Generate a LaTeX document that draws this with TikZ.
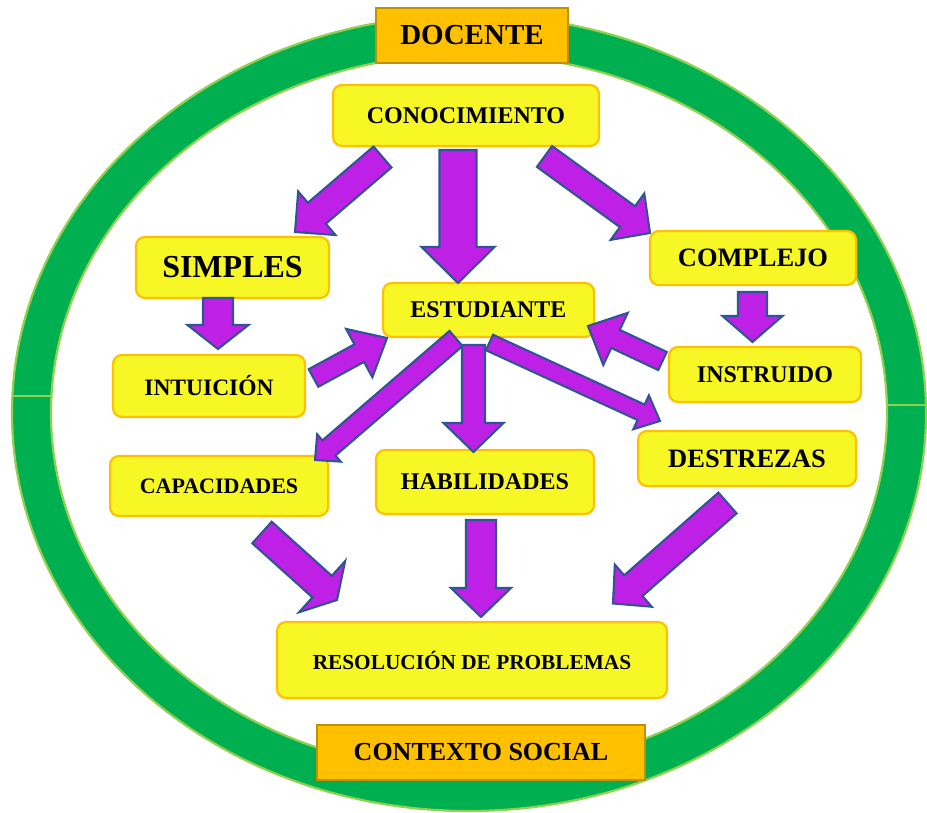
\documentclass[tikz,border=0pt]{standalone}
\usepackage{fontspec}
\setmainfont{Liberation Serif}
\usetikzlibrary{calc}

\definecolor{ringgreen}{RGB}{0,176,80}
\definecolor{ringedge}{RGB}{146,208,80}
\definecolor{gold}{RGB}{255,192,0}
\definecolor{golddark}{RGB}{191,144,0}
\definecolor{boxyellow}{RGB}{247,247,37}
\definecolor{boxedge}{RGB}{255,192,0}
\definecolor{arrowpurple}{RGB}{190,32,230}
\definecolor{arrowblue}{RGB}{47,85,151}

\newcommand{\fsz}[1]{\fontsize{#1}{#1}\selectfont}
% tail, tip, shaft half width, head half width, head length
\newcommand{\blockarrow}[5]{%
  \coordinate (hb) at ($(#2)!#5pt!(#1)$);
  \filldraw[barrow] ($(#1)!#3pt!90:(#2)$) -- ($(hb)!#3pt!90:(#2)$)
    -- ($(hb)!#4pt!90:(#2)$) -- (#2) -- ($(hb)!#4pt!-90:(#2)$)
    -- ($(hb)!#3pt!-90:(#2)$) -- ($(#1)!#3pt!-90:(#2)$) -- cycle;}

\begin{document}
\begin{tikzpicture}[x=1pt, y=-1pt,
  ybox/.style={draw=boxedge, fill=boxyellow, line width=2.2pt, rounded corners=9pt, inner sep=0pt},
  gbox/.style={draw=golddark, fill=gold, line width=2.5pt, inner sep=0pt},
  barrow/.style={fill=arrowpurple, draw=arrowblue, line width=2.1pt, line join=miter}]
\useasboundingbox (0,0) rectangle (927,813);
\def\outerring{(469,413) ellipse [x radius=457pt, y radius=398pt]}
\def\innerring{(469,413) ellipse [x radius=418pt, y radius=359pt]}

\begin{scope}[even odd rule] % green ring
\fill[ringgreen] \outerring \innerring;
\end{scope}
\draw[ringedge, line width=2.2pt] \outerring;
\draw[ringedge, line width=2.2pt] \innerring;
\draw[ringedge, line width=1.5pt] (12,396) -- (52,396);
\draw[ringedge, line width=1.5pt] (887,405) -- (927,405);

\node[gbox, minimum width=192pt, minimum height=55pt, font=\bfseries\fsz{29}] (doc) at (472,35.5) {DOCENTE};
\node[gbox, minimum width=328pt, minimum height=55pt, font=\bfseries\fsz{26}] (ctx) at (481,752.5) {CONTEXTO SOCIAL};

\node[ybox, minimum width=266pt, minimum height=61pt, font=\bfseries\fsz{24}] (cono) at (466,115.5) {CONOCIMIENTO};
\node[ybox, minimum width=193pt, minimum height=61pt, font=\bfseries\fsz{32}] (simp) at (232.5,267.5) {SIMPLES};
\node[ybox, minimum width=211pt, minimum height=54pt, font=\bfseries\fsz{24}] (estu) at (488.5,310) {ESTUDIANTE};
\node[ybox, minimum width=206pt, minimum height=54pt, font=\bfseries\fsz{26.5}] (comp) at (753,258) {COMPLEJO};
\node[ybox, minimum width=192pt, minimum height=62pt, font=\bfseries\fsz{23.5}] (intu) at (209,386) {INTUICIÓN};
\node[ybox, minimum width=192pt, minimum height=55pt, font=\bfseries\fsz{24}] (inst) at (765,374.5) {INSTRUIDO};
\node[ybox, minimum width=218pt, minimum height=60pt, font=\bfseries\fsz{22}] (capa) at (219,486) {CAPACIDADES};
\node[ybox, minimum width=218pt, minimum height=64pt, font=\bfseries\fsz{24}] (habi) at (485,482) {HABILIDADES};
\node[ybox, minimum width=218pt, minimum height=55pt, font=\bfseries\fsz{26.5}] (dest) at (747,458.5) {DESTREZAS};
\node[ybox, minimum width=390pt, minimum height=76pt, font=\bfseries\fsz{21.3}] (reso) at (472,660) {RESOLUCIÓN DE PROBLEMAS};

% arrow ends
\coordinate (cs1) at (382.5,157); \coordinate (cs2) at (295,232);
\coordinate (ce1) at (458,150);   \coordinate (ce2) at (458,283);
\coordinate (cc1) at (544.5,156.5); \coordinate (cc2) at (650,233);
\coordinate (si1) at (218,298);   \coordinate (si2) at (218,349);
\coordinate (ci1) at (752.5,292); \coordinate (ci2) at (752.5,342);
\coordinate (ie1) at (313.5,378); \coordinate (ie2) at (387,338);
\coordinate (ne1) at (662.5,361); \coordinate (ne2) at (588,326);
\coordinate (ec1) at (456,338.5); \coordinate (ec2) at (315,460);
\coordinate (eh1) at (473.5,345); \coordinate (eh2) at (473.5,452);
\coordinate (ed1) at (489.5,342.5); \coordinate (ed2) at (660,421);
\coordinate (cr1) at (262,532.5); \coordinate (cr2) at (337,600);
\coordinate (hr1) at (481,520);   \coordinate (hr2) at (481,617);
\coordinate (dr1) at (727.5,503); \coordinate (dr2) at (613,603.5);

\blockarrow{cs1}{cs2}{13.8}{28.7}{28.8}
\blockarrow{ce1}{ce2}{18.5}{36.5}{36}
\blockarrow{cc1}{cc2}{12.9}{28.6}{27.8}
\blockarrow{si1}{si2}{15}{30.5}{24}
\blockarrow{ci1}{ci2}{14.5}{30}{26}
\blockarrow{ie1}{ie2}{10}{27.5}{31.6}
\blockarrow{ne1}{ne2}{10}{28.8}{30.4}
\blockarrow{ec1}{ec2}{10}{18}{18.4}
\blockarrow{eh1}{eh2}{11.5}{30}{29}
\blockarrow{ed1}{ed2}{8.5}{18.6}{20.8}
\blockarrow{cr1}{cr2}{14.5}{34.4}{20}
\blockarrow{hr1}{hr2}{15}{30}{29}
\blockarrow{dr1}{dr2}{13.8}{28}{27}
\end{tikzpicture}
\end{document}
